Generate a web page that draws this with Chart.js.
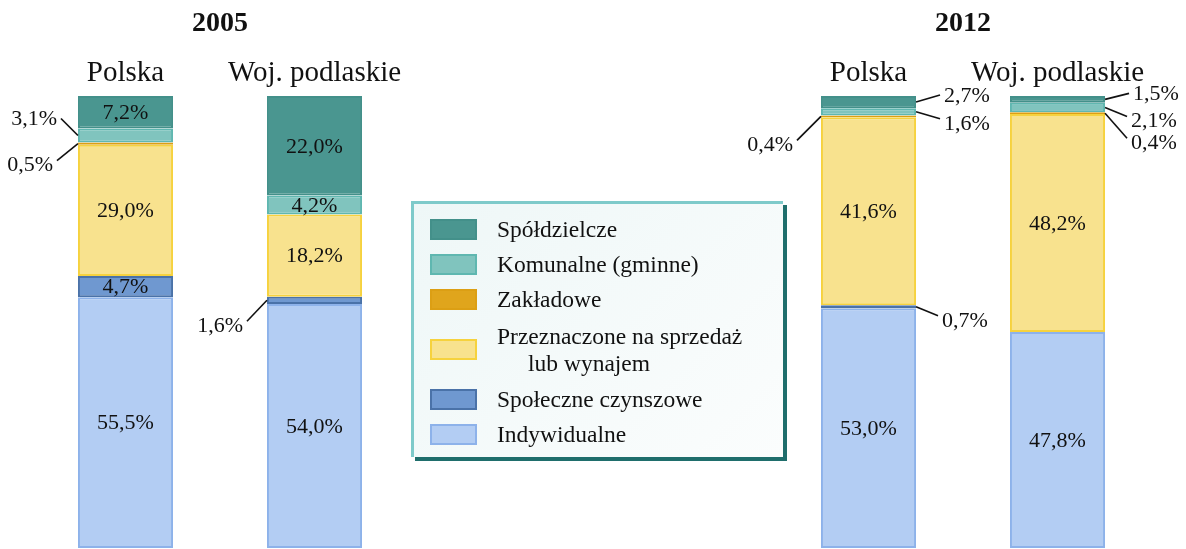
<!DOCTYPE html>
<html lang="pl">
<head>
<meta charset="utf-8">
<title>Mieszkania oddane do użytkowania</title>
<script src="https://cdn.jsdelivr.net/npm/chart.js@4/dist/chart.umd.min.js"></script>
<style>
  body { margin: 0; background: #fff; }
  #wrap { position: relative; width: 1186px; height: 549px; overflow: hidden; }
  .chart { position: absolute; top: 0; height: 549px; }
  #legend {
    position: absolute; left: 411px; top: 201px; width: 372px; height: 256px;
    box-sizing: border-box; padding: 8px 0 0 16px;
    border-top: 3px solid #7ecaca; border-left: 3px solid #7ecaca;
    background: linear-gradient(135deg, #eef7f7 0%, #fbfdfd 100%);
    box-shadow: 4px 4px 0 #1f6e6c;
    font-family: "Liberation Serif", "Times New Roman", serif; font-size: 23.5px; color: #111;
  }
  .row { display: flex; align-items: center; height: 35px; }
  .row.tall { height: 65px; }
  .sw { width: 47px; height: 21px; box-sizing: border-box; border: 2px solid; flex: none; margin-right: 20px; }
  .txt { width: 228px; line-height: 27px; padding-left: 31px; text-indent: -31px; }
</style>
</head>
<body>
<div id="wrap">
  <canvas id="c2005" class="chart" style="left:0" width="440" height="549"></canvas>
  <div id="legend"></div>
  <canvas id="c2012" class="chart" style="left:730px" width="456" height="549"></canvas>
</div>
<script>
// columns: Polska 2005, Woj. podlaskie 2005, Polska 2012, Woj. podlaskie 2012
const years = ['2005', '2012'];
const regions = ['Polska', 'Woj. podlaskie'];

const spoldzielcze = [7.2, 22.0, 2.7, 1.5];
const komunalne = [3.1, 4.2, 1.6, 2.1];
const zakladowe = [0.5, 0, 0.4, 0.4];
const naSprzedaz = [29.0, 18.2, 41.6, 48.2];
const spoleczne = [4.7, 1.6, 0.7, 0];
const indywidualne = [55.5, 54.0, 53.0, 47.8];

// bottom of the stack first
const series = [
  { name: 'Indywidualne', values: indywidualne, fill: '#b3cdf3', line: '#8db2ea' },
  { name: 'Społeczne czynszowe', values: spoleczne, fill: '#6f98d0', line: '#4a72a8' },
  { name: 'Przeznaczone na sprzedaż lub wynajem', values: naSprzedaz, fill: '#f8e28e', line: '#f6d23e' },
  { name: 'Zakładowe', values: zakladowe, fill: '#e0a51c', line: '#dc9f14' },
  { name: 'Komunalne (gminne)', values: komunalne, fill: '#80c4be', line: '#5fb7b0' },
  { name: 'Spółdzielcze', values: spoldzielcze, fill: '#4a9690', line: '#43908a' }
];

const serif = '"Liberation Serif", "Times New Roman", serif';
const fmt = v => v.toFixed(1).replace('.', ',') + '%';

// small shares get a label outside the bar with a leader line
// side: -1 left, 1 right; dx/dy: leader end relative to the segment middle
const callouts2005 = [
  { col: 0, series: 'Komunalne (gminne)', side: -1, dx: 17, dy: -17 },
  { col: 0, series: 'Zakładowe', side: -1, dx: 21, dy: 17 },
  { col: 1, series: 'Społeczne czynszowe', side: -1, dx: 20, dy: 21 }
];
const callouts2012 = [
  { col: 0, series: 'Spółdzielcze', side: 1, dx: 24, dy: -7 },
  { col: 0, series: 'Komunalne (gminne)', side: 1, dx: 24, dy: 7 },
  { col: 0, series: 'Zakładowe', side: -1, dx: 24, dy: 24 },
  { col: 0, series: 'Społeczne czynszowe', side: 1, dx: 22, dy: 9 },
  { col: 1, series: 'Spółdzielcze', side: 1, dx: 24, dy: -6 },
  { col: 1, series: 'Komunalne (gminne)', side: 1, dx: 22, dy: 9 },
  { col: 1, series: 'Zakładowe', side: 1, dx: 22, dy: 25 }
];

const valueLabels = {
  id: 'valueLabels',
  afterDatasetsDraw(chart, args, opts) {
    const ctx = chart.ctx;
    ctx.save();
    ctx.font = '22px ' + serif;
    ctx.fillStyle = '#111';
    ctx.strokeStyle = '#111';
    ctx.lineWidth = 1.6;
    ctx.textBaseline = 'middle';
    chart.data.datasets.forEach((ds, di) => {
      chart.getDatasetMeta(di).data.forEach((bar, i) => {
        const v = ds.data[i];
        if (!v) return;
        const mid = (bar.y + bar.base) / 2;
        if (v >= 4) {
          ctx.textAlign = 'center';
          ctx.fillText(fmt(v), bar.x, mid + 1);
          return;
        }
        const c = opts.callouts.find(o => o.col === i && o.series === ds.label);
        if (!c) return;
        const x0 = bar.x + c.side * bar.width / 2;
        const x1 = x0 + c.side * c.dx;
        const y1 = mid + c.dy;
        ctx.beginPath();
        ctx.moveTo(x0, mid);
        ctx.lineTo(x1, y1);
        ctx.stroke();
        ctx.textAlign = c.side < 0 ? 'right' : 'left';
        ctx.fillText(fmt(v), x1 + c.side * 4, y1 + (c.dy > 0 ? 5 : 1));
      });
    });
    ctx.restore();
  }
};

function makeChart(id, yearIdx, padLeft, padRight, callouts) {
  const cols = [yearIdx * 2, yearIdx * 2 + 1];
  return new Chart(document.getElementById(id), {
    type: 'bar',
    data: {
      labels: regions,
      datasets: series.map(s => ({
        label: s.name,
        data: cols.map(c => s.values[c]),
        backgroundColor: s.fill,
        borderColor: s.line,
        borderWidth: 2,
        borderSkipped: false,
        categoryPercentage: 1,
        barPercentage: 0.503
      }))
    },
    options: {
      responsive: false,
      animation: false,
      layout: { padding: { left: padLeft, right: padRight, top: 3, bottom: 1 } },
      scales: {
        x: {
          stacked: true,
          position: 'top',
          grid: { display: false, drawTicks: false },
          border: { display: false },
          ticks: { color: '#111', padding: 5, font: { family: serif, size: 29 } }
        },
        y: { stacked: true, min: 0, max: 100, display: false }
      },
      plugins: {
        legend: { display: false },
        tooltip: { enabled: false },
        title: {
          display: true,
          text: years[yearIdx],
          color: '#111',
          font: { family: serif, size: 28, weight: 'bold' },
          padding: { top: 4, bottom: 10.6 }
        },
        valueLabels: { callouts: callouts }
      }
    },
    plugins: [valueLabels]
  });
}

makeChart('c2005', 0, 31, 31, callouts2005);
makeChart('c2012', 1, 44, 34, callouts2012);

// legend box, top of the stack first
const legendBox = document.getElementById('legend');
series.slice().reverse().forEach(s => {
  const row = document.createElement('div');
  row.className = 'row' + (s.name.length > 24 ? ' tall' : '');
  const sw = document.createElement('div');
  sw.className = 'sw';
  sw.style.background = s.fill;
  sw.style.borderColor = s.line;
  const txt = document.createElement('div');
  txt.className = 'txt';
  txt.textContent = s.name;
  row.appendChild(sw);
  row.appendChild(txt);
  legendBox.appendChild(row);
});
</script>
</body>
</html>
